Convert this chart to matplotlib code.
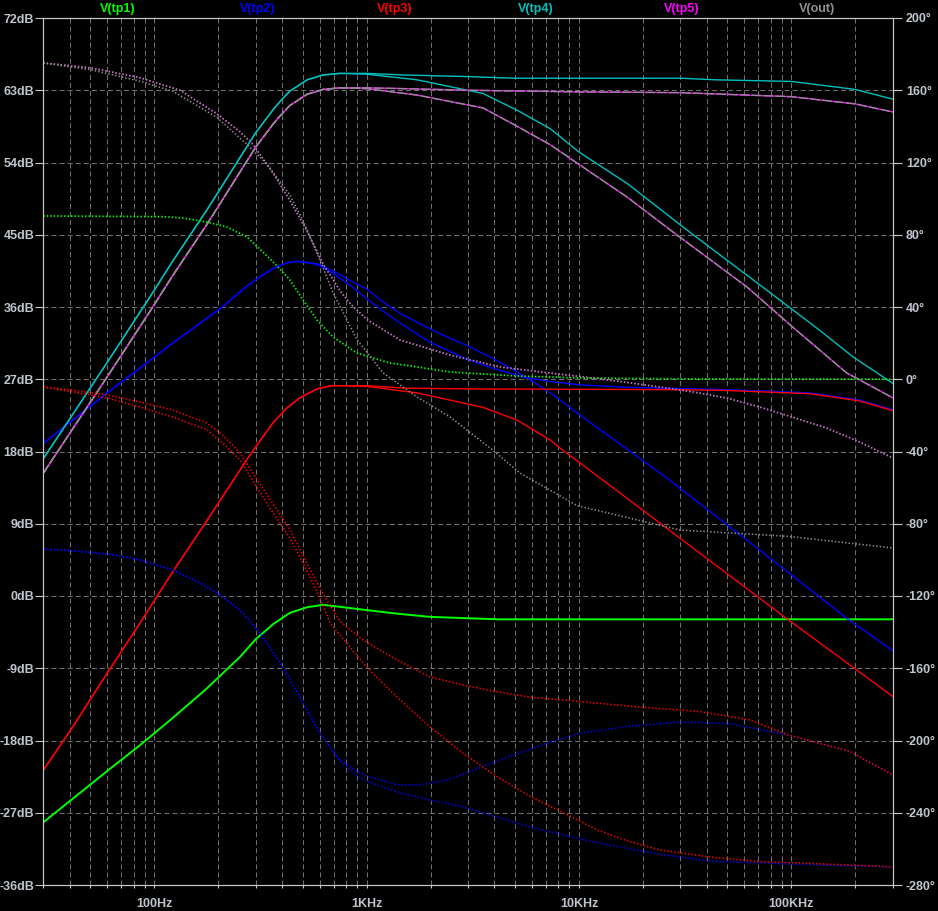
import numpy as np
import matplotlib
matplotlib.use('Agg')
import matplotlib.pyplot as plt
from matplotlib.ticker import FixedLocator, NullFormatter, LogLocator

# ---------------- data (Hz, dB, degrees) ----------------
# V(tp1)
tp1_mag_f = [30, 60, 85.5, 122, 177, 253, 300, 363, 435, 524, 623, 672, 962, 1391, 1989, 4113, 300000]
tp1_mag = [-28.2, -21.8, -18.6, -15.2, -11.5, -7.6, -5.4, -3.5, -2.1, -1.4, -1.1, -1.2, -1.7, -2.2, -2.6, -2.9, -2.9]
tp1_ph_f = [30, 110, 136, 177, 220, 273, 325, 363, 435, 501, 584, 694, 900, 1289, 1727, 2470, 5120, 10150, 30000, 300000]
tp1_ph = [90.4, 90, 89.3, 87, 84.3, 78.8, 70.4, 64.9, 55, 44, 32.8, 23.4, 14.5, 9, 6.8, 4, 1.8, 0.7, 0.2, 0]

# V(tp2)
tp2_rise_f = [30, 60, 122, 204, 273, 320, 363, 420, 470]
tp2_rise = [19.0, 25.3, 31.5, 35.8, 38.6, 39.9, 40.8, 41.5, 41.7]
tp2_a_f = [584, 694, 835, 1005, 1195, 1437, 1989, 2970, 3900, 5400, 7335, 10150, 16840, 49800, 122000, 209600, 300000]
tp2_a = [41.3, 40.2, 38.7, 37.0, 35.5, 34.0, 31.6, 29.5, 28.4, 27.3, 26.7, 26.3, 26.0, 25.7, 25.3, 24.4, 23.2]
tp2_b_f = [584, 694, 835, 1005, 1195, 1437, 1727, 2054, 2470, 2970, 3532, 4258, 5120, 6087, 7335, 8168, 10150, 25920, 97200, 185000, 300000]
tp2_b = [41.4, 40.5, 39.3, 38.2, 36.6, 35.2, 34.1, 33.1, 32.1, 31.2, 30.2, 29.1, 27.9, 26.7, 25.3, 24.4, 22.5, 14.7, 2.9, -2.9, -6.8]
tp2_ph_rise_f = [30, 41.3, 60, 85.5, 122, 164, 204, 253, 315, 392, 485, 603, 672]
tp2_ph_rise = [-94, -95, -96.7, -100, -105.6, -112.8, -119.4, -127.7, -140.5, -157, -176, -196, -203.6]
tp2_ph_a_f = [749, 962, 1391, 1783, 2392, 3420, 4900, 7091, 10150, 17380, 30000, 50000, 97200, 188000, 300000]
tp2_ph_a = [-210.8, -219, -224.6, -224.6, -221.9, -215, -208, -201.4, -196, -192, -189.8, -190.5, -197, -206, -219]
tp2_ph_b_f = [749, 962, 1391, 1989, 2844, 4113, 5894, 8438, 12170, 17380, 24000, 41430, 101500, 300000]
tp2_ph_b = [-211.5, -221.9, -228.5, -233, -236.8, -242.3, -248, -252.3, -256.5, -260, -263, -266.7, -268.4, -270]

# V(tp3)
tp3_rise_f = [30, 41.3, 60, 85.5, 122, 177, 204, 273, 320, 363, 420, 485, 584, 680, 749]
tp3_rise = [-21.7, -16.3, -9.6, -3.4, 3.0, 9.4, 11.9, 17.0, 19.6, 21.6, 23.4, 24.7, 25.8, 26.2, 26.2]
tp3_a_f = [1005, 1500, 3000, 30000, 49800, 122000, 209600, 300000]
tp3_a = [26.2, 25.9, 25.8, 25.7, 25.6, 25.2, 24.3, 23.1]
tp3_b_f = [1005, 1727, 2470, 3532, 5120, 7335, 8168, 12570, 97200, 300000]
tp3_b = [26.1, 25.3, 24.4, 23.5, 21.9, 19.4, 18.4, 14.7, -3.0, -12.5]
tp3_ph_a_f = [30, 41.3, 60, 85.5, 122, 177, 210, 253, 340, 435, 524, 623, 672, 749, 962, 1391, 1989, 2844, 4113,
              5894, 8438, 12170, 17380, 37170, 63750, 97200, 188000, 300000]
tp3_ph_a = [-4.3, -6, -8.7, -12.6, -17, -24.2, -30.9, -40.8, -64, -83, -102, -119, -125, -134, -144.4, -155.4,
            -164.8, -169.3, -173, -176, -177.6, -179.3, -181, -184, -188.6, -197, -206, -219]
tp3_ph_b_f = [30, 41.3, 60, 85.5, 122, 177, 220, 253, 340, 435, 524, 623, 672, 962, 1072, 1391, 1989, 2844, 4113,
              5894, 8438, 12170, 17380, 24020, 41430, 71050, 146600, 300000]
tp3_ph_b = [-4.3, -7, -10.4, -15.4, -20.9, -28, -37.5, -44.7, -69, -88, -106, -125, -135, -157, -163, -176,
            -192.5, -207, -220, -231, -240, -249.5, -256, -260.6, -264.5, -267, -268.4, -270]

# V(tp4)
tp4_rise_f = [30, 60, 100, 122, 177, 253, 300, 363, 400, 435, 524, 623, 749]
tp4_rise = [17.1, 29.1, 38.1, 41.7, 48.1, 54.6, 57.7, 60.6, 61.9, 62.9, 64.3, 64.9, 65.1]
tp4_a_f = [1000, 1500, 3000, 5000, 10000, 30000, 44000, 100000, 200000, 300000]
tp4_a = [65.1, 64.9, 64.7, 64.5, 64.5, 64.5, 64.3, 64.1, 63.1, 61.9]
tp4_b_f = [1000, 1727, 3532, 5120, 7335, 10000, 16840, 32220, 76640, 136000, 195000, 300000]
tp4_b = [65.0, 64.3, 62.6, 60.5, 58.2, 55.3, 51.4, 45.6, 38.1, 33.1, 29.8, 26.5]

# V(tp5) and V(out) (drawn on top of each other)
tp5_rise_f = [30, 60, 100, 122, 177, 253, 300, 363, 400, 435, 524, 623, 749]
tp5_rise = [15.3, 27.3, 36.3, 39.9, 46.3, 52.8, 55.9, 58.8, 60.1, 61.1, 62.5, 63.1, 63.3]
tp5_a_f = [1000, 1500, 3000, 10000, 30000, 100000, 200000, 300000]
tp5_a = [63.3, 63.2, 63.0, 62.8, 62.7, 62.2, 61.3, 60.3]
tp5_b_f = [1000, 1727, 3532, 5120, 7335, 9829, 16840, 26900, 61800, 101500, 182000, 300000]
tp5_b = [63.2, 62.4, 60.8, 58.5, 56.2, 53.9, 49.7, 45.6, 38.5, 33.5, 27.8, 24.7]
out_ph_a_f = [30, 49.6, 85.5, 132, 197, 253, 292, 363, 435, 524, 623, 749, 835, 1005, 1437, 2470, 4258, 7335,
              10150, 15100, 24020, 34440, 49800, 71050, 101500, 146600, 209600, 300000]
out_ph_a = [175.1, 172.5, 167, 160, 147, 137, 130, 114, 99, 82, 64, 49, 42, 33, 21.7, 13.4, 6.8, 3.4,
            1.5, -1, -4.3, -7, -10.4, -15.4, -21, -27, -34.7, -43.6]
out_ph_b_f = [30, 49.6, 85.5, 122, 197, 273, 340, 435, 501, 603, 694, 900, 1195, 1727, 2470, 3812, 5285, 9829,
              29880, 97200, 300000]
out_ph_b = [175.1, 171.5, 165, 159.5, 145, 130, 119, 102, 88, 66, 48, 22, 3.5, -9.8, -20.9, -38, -52, -70,
            -83.5, -87, -93.4]

names = ['V(tp1)', 'V(tp2)', 'V(tp3)', 'V(tp4)', 'V(tp5)', 'V(out)']
colors = ['#00ff00', '#0000ff', '#ff0000', '#00bfbf', '#ff00ff', '#909090']
name_x = [118, 258, 395, 536, 682, 817]

# ---------------- figure ----------------
plt.rcParams['font.family'] = ['Liberation Sans', 'DejaVu Sans']
plt.rcParams['lines.scale_dashes'] = False

W, H = 938, 911
fig = plt.figure(figsize=(W / 100, H / 100), dpi=100, facecolor='black')
L, R, T, B = 43.3 / W, 892.6 / W, 1 - 18 / H, 1 - 885 / H
ax = fig.add_axes([L, B, R - L, T - B])
ax.set_facecolor('black')
ax.set_xscale('log')
ax.set_xlim(30, 300000)
ax.set_ylim(-36, 72)
ax2 = ax.twinx()
ax2.set_ylim(-280, 200)

txtc = '#c0c4cc'
gridc = '#6e6e6e'
ax.xaxis.set_major_locator(FixedLocator([100, 1e3, 1e4, 1e5]))
ax.set_xticklabels(['100Hz', '1KHz', '10KHz', '100KHz'])
ax.xaxis.set_minor_locator(LogLocator(base=10, subs=np.arange(2, 10), numticks=20))
ax.xaxis.set_minor_formatter(NullFormatter())
yt = np.arange(-36, 73, 9)
ax.set_yticks(yt)
ax.set_yticklabels([f'{v}dB' for v in yt])
pt = np.arange(-280, 201, 40)
ax2.set_yticks(pt)
ax2.set_yticklabels([f'{v}°' for v in pt])

gl = dict(color=gridc, linewidth=0.75, linestyle=(0, (3.6, 2.2)))
ax.grid(True, which='major', axis='both', **gl)
ax.grid(True, which='minor', axis='x', **gl)
ax.set_axisbelow(True)

for a in (ax, ax2):
    for s in a.spines.values():
        s.set_color('#c8c8c8')
        s.set_linewidth(0.8)
ax.tick_params(axis='x', which='both', colors='#c8c8c8', labelcolor=txtc, length=2.5, width=0.8,
               pad=7, labelsize=9)
ax.tick_params(axis='y', colors='#c8c8c8', labelcolor=txtc, length=5.5, width=0.8, pad=1, labelsize=9)
ax2.tick_params(axis='y', colors='#c8c8c8', labelcolor=txtc, length=6.5, width=0.8, pad=3, labelsize=9)
for lab in ax.get_xticklabels() + ax.get_yticklabels() + ax2.get_yticklabels():
    lab.set_fontweight('bold')

lw = 1.0
dlw = 1.15
dot = (0, (1.0, 1.5))

# V(tp1)
ax.plot(tp1_mag_f, tp1_mag, color=colors[0], lw=1.4)
ax2.plot(tp1_ph_f, tp1_ph, color=colors[0], lw=1.3, linestyle=dot)
# V(tp2)
ax.plot(tp2_rise_f + tp2_a_f, tp2_rise + tp2_a, color=colors[1], lw=lw)
ax.plot(tp2_rise_f + tp2_b_f, tp2_rise + tp2_b, color=colors[1], lw=lw)
ax2.plot(tp2_ph_rise_f + tp2_ph_a_f, tp2_ph_rise + tp2_ph_a, color=colors[1], lw=dlw, linestyle=dot)
ax2.plot(tp2_ph_rise_f + tp2_ph_b_f, tp2_ph_rise + tp2_ph_b, color=colors[1], lw=dlw, linestyle=dot)
# V(tp3)
ax.plot(tp3_rise_f + tp3_a_f, tp3_rise + tp3_a, color=colors[2], lw=lw)
ax.plot(tp3_rise_f + tp3_b_f, tp3_rise + tp3_b, color=colors[2], lw=lw)
ax2.plot(tp3_ph_a_f, tp3_ph_a, color=colors[2], lw=dlw, linestyle=dot)
ax2.plot(tp3_ph_b_f, tp3_ph_b, color=colors[2], lw=dlw, linestyle=dot)
# V(tp4)
ax.plot(tp4_rise_f + tp4_a_f, tp4_rise + tp4_a, color=colors[3], lw=lw)
ax.plot(tp4_rise_f + tp4_b_f, tp4_rise + tp4_b, color=colors[3], lw=lw)
# V(tp5)
ax.plot(tp5_rise_f + tp5_a_f, tp5_rise + tp5_a, color=colors[4], lw=lw)
ax.plot(tp5_rise_f + tp5_b_f, tp5_rise + tp5_b, color=colors[4], lw=lw)
# V(out)
ax.plot(tp5_rise_f + tp5_a_f, tp5_rise + tp5_a, color=colors[5], lw=lw, linestyle=(0, (7, 1.5)))
ax.plot(tp5_rise_f + tp5_b_f, tp5_rise + tp5_b, color=colors[5], lw=lw, linestyle=(0, (7, 1.5)))
ax2.plot(out_ph_a_f, out_ph_a, color=colors[4], lw=dlw, linestyle=dot)
ax2.plot(out_ph_a_f, out_ph_a, color=colors[5], lw=dlw, linestyle=dot)
ax2.plot(out_ph_b_f, out_ph_b, color=colors[5], lw=dlw, linestyle=dot)

for n, c, x in zip(names, colors, name_x):
    fig.text(x / W, 1 - 9 / H, n, color=c, ha='center', va='center', fontsize=9, fontweight='bold')

fig.savefig('out.png', dpi=100, facecolor='black')
